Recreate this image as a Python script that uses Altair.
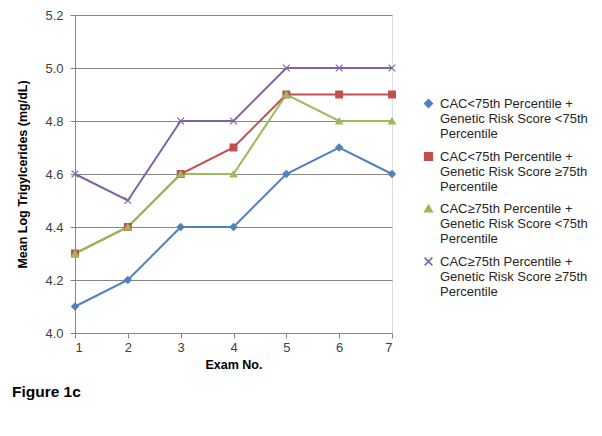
import altair as alt
import pandas as pd

exams = [1, 2, 3, 4, 5, 6, 7]
series_names = [
    "CAC<75th Percentile +|Genetic Risk Score <75th|Percentile",
    "CAC<75th Percentile +|Genetic Risk Score ≥75th|Percentile",
    "CAC≥75th Percentile +|Genetic Risk Score <75th|Percentile",
    "CAC≥75th Percentile +|Genetic Risk Score ≥75th|Percentile",
]
blue_vals = [4.1, 4.2, 4.4, 4.4, 4.6, 4.7, 4.6]
red_vals = [4.3, 4.4, 4.6, 4.7, 4.9, 4.9, 4.9]
green_vals = [4.3, 4.4, 4.6, 4.6, 4.9, 4.8, 4.8]
purple_vals = [4.6, 4.5, 4.8, 4.8, 5.0, 5.0, 5.0]
colors = ["#4F81BD", "#C0504D", "#9BBB59", "#8064A2"]
shapes = ["diamond", "square", "triangle-up", "M-1,-1L1,1M-1,1L1,-1"]

rows = []
for name, vals in zip(series_names, [blue_vals, red_vals, green_vals, purple_vals]):
    for e, v in zip(exams, vals):
        rows.append({"exam": e, "value": v, "series": name})
df = pd.DataFrame(rows)

color_scale = alt.Scale(domain=series_names, range=colors)
shape_scale = alt.Scale(domain=series_names, range=shapes)

legend = alt.Legend(title=None, orient="none", legendX=347, legendY=82,
                    labelExpr="split(datum.label, '|')",
                    labelFontSize=13, labelColor="#262626",
                    labelFont="Liberation Sans", labelLimit=300,
                    rowPadding=8, symbolSize=60, symbolStrokeWidth=1.5,
                    labelOffset=5)

x = alt.X("exam:Q", scale=alt.Scale(domain=[1, 7], nice=False),
          axis=alt.Axis(title="Exam No.", values=exams, grid=False, format="d",
                        titleFontWeight="bold", titleFontSize=12.5, titleColor="#000000",
                        labelFontSize=13, labelColor="#404040", domainColor="#868686",
                        tickColor="#868686", tickSize=5, titlePadding=4, labelPadding=3))
y = alt.Y("value:Q", scale=alt.Scale(domain=[4.0, 5.2], nice=False, zero=False),
          axis=alt.Axis(title="Mean Log Trigylcerides (mg/dL)", values=[4.0, 4.2, 4.4, 4.6, 4.8, 5.0, 5.2],
                        format=".1f", gridColor="#868686", gridWidth=1,
                        titleFontWeight="bold", titleFontSize=12.5, titleColor="#000000",
                        labelFontSize=13, labelColor="#404040", domainColor="#868686",
                        tickColor="#868686", tickSize=5, titlePadding=15, labelPadding=7))

lines = alt.Chart(df).mark_line(strokeWidth=2).encode(
    x=x, y=y,
    color=alt.Color("series:N", scale=color_scale, legend=legend),
    detail="series:N",
)
points = alt.Chart(df).mark_point(filled=True, size=45, strokeWidth=1.2, opacity=1).encode(
    x="exam:Q", y="value:Q",
    color=alt.Color("series:N", scale=color_scale, legend=legend),
    shape=alt.Shape("series:N", scale=shape_scale, legend=legend),
    stroke=alt.Stroke("series:N", scale=color_scale, legend=None),
)

chart = alt.layer(lines, points).properties(
    width=317, height=318,
    padding={"top": 1, "left": 3, "right": 5, "bottom": 5},
    title=alt.TitleParams("Figure 1c", orient="bottom", anchor="start", frame="bounds",
                          fontSize=15.5, fontWeight="bold", font="Liberation Sans",
                          color="#000000", offset=14, dx=-5),
).configure_view(stroke=None).configure(font="Liberation Sans")

chart.save("out.html", embed_options={"renderer": "svg", "actions": False})
